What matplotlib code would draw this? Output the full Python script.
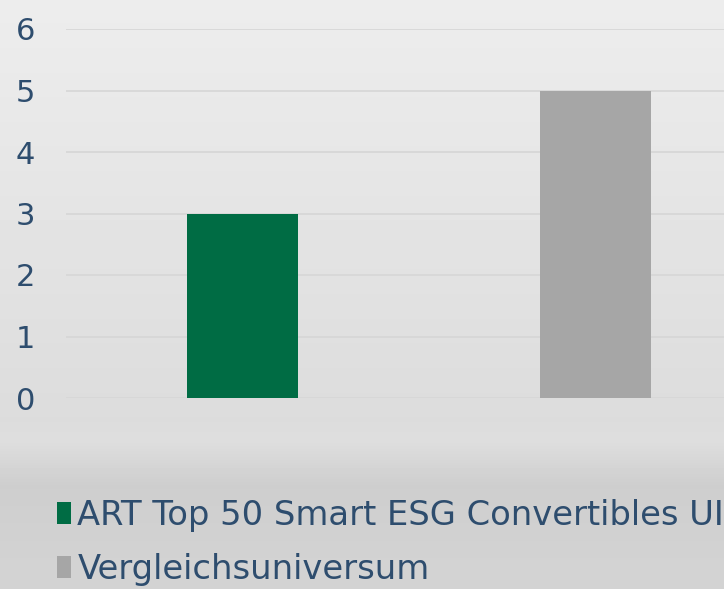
"""Bar chart: ART Top 50 Smart ESG Convertibles UI vs. Vergleichsuniversum"""

import numpy as np
import matplotlib.pyplot as plt
from matplotlib.patches import Patch

# -----------------------------------------------------------------------------
# Data

categories = ['ART Top 50 Smart ESG Convertibles UI', 'Vergleichsuniversum']
values = [3, 5]
colors = ['#006c44', '#a6a6a6']
y_ticks = [0, 1, 2, 3, 4, 5, 6]

text_color = '#2e4d6e'
grid_color = '#d6d6d6'

# -----------------------------------------------------------------------------

fig = plt.figure(figsize=(7.24, 5.89), dpi=100)

# -- Background gradient (top light, darker band below the axis)
bg = fig.add_axes([0, 0, 1, 1], zorder=0)
rows = np.arange(589)
stops_y = [0, 420, 440, 485, 589]
stops_v = [237, 220, 222, 206, 212]
shade = np.interp(rows, stops_y, stops_v) / 255.
img = np.repeat(shade[:, None], 10, axis=1)
bg.imshow(img, cmap='gray', vmin=0, vmax=1, aspect='auto',
          extent=[0, 1, 0, 1], origin='upper')
bg.set_axis_off()

# -- Main axes; extends past the right edge, as in the reference crop
W, H = 724., 589.
left, right = 66., 772.
y0, y6 = 398., 29.
ax = fig.add_axes([left / W, 1 - y0 / H, (right - left) / W, (y0 - y6) / H],
                  zorder=1)
ax.patch.set_alpha(0)

x = np.arange(len(categories))
ax.bar(x, values, width=0.315, color=colors, zorder=2)

ax.set_xlim(-0.5, len(categories) - 0.5)
ax.set_ylim(0, 6)
ax.set_yticks(y_ticks)
ax.set_yticklabels([str(t) for t in y_ticks])
ax.set_xticks([])

ax.grid(axis='y', color=grid_color, linewidth=1.2, zorder=0)
ax.set_axisbelow(True)
for s in ax.spines.values():
    s.set_visible(False)

ax.tick_params(axis='y', length=0, pad=29, labelsize=22, labelcolor=text_color)
for lab in ax.get_yticklabels():
    lab.set_horizontalalignment('center')

# -- Legend below the plot
handles = [Patch(facecolor=c, edgecolor='none') for c in colors]
fig.legend(handles, categories, loc='upper left',
           bbox_to_anchor=(57 / W, 1 - 499 / H),
           frameon=False, fontsize=24.3, labelcolor=text_color,
           handlelength=0.4, handleheight=0.6, handletextpad=0.2,
           labelspacing=0.62, borderaxespad=0, borderpad=0)

fig.savefig('out.png', dpi=100)
plt.close(fig)
